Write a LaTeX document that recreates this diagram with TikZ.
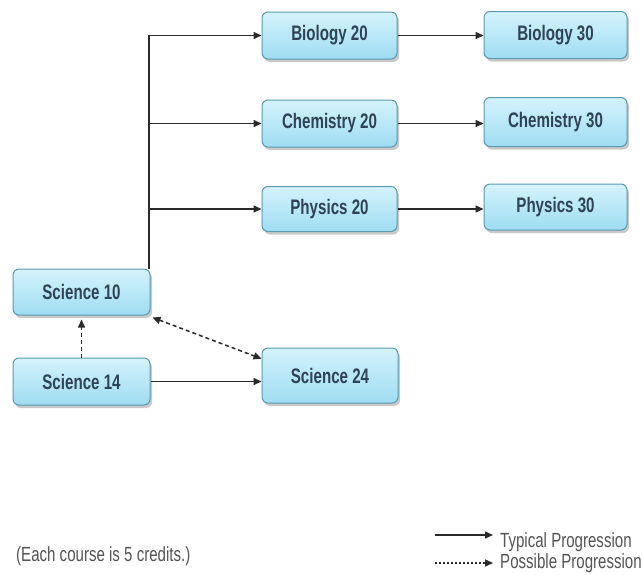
\documentclass[tikz,border=0pt]{standalone}
\usepackage{fontspec}
\newfontfamily\condb{Liberation Sans}[FakeStretch=0.72]
\newfontfamily\condl{Liberation Sans}[FakeStretch=0.735]
\usetikzlibrary{arrows.meta,shadows,calc}
\definecolor{boxtop}{HTML}{D4F3FC}
\definecolor{boxbot}{HTML}{9FDCF2}
\definecolor{boxedge}{HTML}{5B9AAF}
\definecolor{boxtext}{HTML}{2E4355}
\definecolor{linecol}{HTML}{2A2A2A}
\definecolor{legtext}{HTML}{555555}
\tikzset{
  course/.style={draw=boxedge, line width=1pt, rounded corners=6pt,
    top color=boxtop, bottom color=boxbot,
    drop shadow={shadow xshift=2pt, shadow yshift=-3pt, opacity=0.35, fill=black!60},
    minimum width=135pt, minimum height=47pt, inner sep=0pt,
    font=\condb\bfseries\fontsize{21}{24}\selectfont, text=boxtext},
  conn/.style={draw=linecol, line width=1.5pt, -{Triangle[length=8pt,width=7pt]}},
  possible/.style={draw=linecol, line width=1.5pt, dash pattern=on 4pt off 3pt},
  legendtext/.style={font=\condl\fontsize{20.5}{23}\selectfont, text=legtext, inner sep=0pt, anchor=base west}
}
\begin{document}
\begin{tikzpicture}[x=1pt,y=-1pt]
\useasboundingbox[fill=white] (0,0) rectangle (643,574);

\node[course] (bio20) at (329.5,35.5) {Biology 20};
\node[course, minimum width=143pt] (bio30) at (555.5,35) {Biology 30};
\node[course] (chem20) at (329.5,123.5) {Chemistry 20};
\node[course, minimum width=143pt, minimum height=49pt] (chem30) at (555.5,122) {Chemistry 30};
\node[course, minimum height=45pt] (phys20) at (329.5,209) {Physics 20};
\node[course, minimum width=143pt, minimum height=46pt] (phys30) at (555.5,207) {Physics 30};
\node[course, minimum width=137pt, minimum height=46pt] (s10) at (81.5,292) {Science 10};
\node[course, minimum width=137pt] (s14) at (81.5,381.5) {Science 14};
\node[course, minimum width=136pt, minimum height=55pt] (s24) at (330,375.5) {Science 24};

% trunk
\coordinate (trunk) at (149,0);
\draw[conn] (trunk |- s10.north) |- (bio20.west);
\draw[conn] (trunk |- chem20.west) -- (chem20.west);
\draw[conn] (trunk |- phys20.west) -- (phys20.west);

% 20 -> 30
\draw[conn] (bio20.east) -- (bio20.east -| bio30.west);
\draw[conn] (chem20.east) -- (chem20.east -| chem30.west);
\draw[conn] (phys20.east) -- (phys20.east -| phys30.west);

% science 14 -> 24
\draw[conn] (s14.east) -- (s14.east -| s24.west);

% possible progressions
\coordinate (s24in) at ($(s24.north west)!0.2!(s24.south west)$);
\draw[possible, {Triangle[length=8pt,width=7pt]}-{Triangle[length=8pt,width=7pt]}] ($(s10.south east)+(2,2)$) -- (s24in);
\draw[possible, -{Triangle[length=8pt,width=7pt]}] (s14.north) -- ($(s10.south)+(0,4)$);

% legend
\coordinate (ls1) at (435,535);
\coordinate (le1) at (493,535);
\coordinate (ls2) at (435,563);
\coordinate (le2) at (493,563);
\draw[conn] (ls1) -- (le1);
\draw[draw=linecol, line width=1.5pt, dash pattern=on 2pt off 2pt, -{Triangle[length=8pt,width=7pt]}] (ls2) -- (le2);
\node[legendtext] (typ) at (500,547) {Typical Progression};
\node[legendtext] (pos) at (500,568) {Possible Progression};
\node[legendtext] (note) at (16,561) {(Each course is 5 credits.)};
\end{tikzpicture}
\end{document}
